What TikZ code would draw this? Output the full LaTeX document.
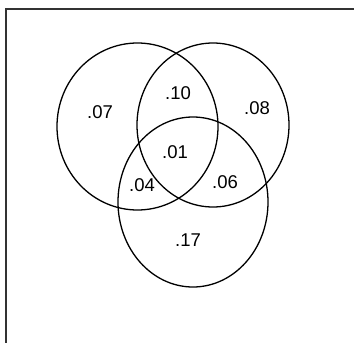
\documentclass[tikz,border=0pt]{standalone}
\usepackage{fontspec}
\setmainfont{Liberation Sans}
\begin{document}
\begin{tikzpicture}[x=1pt,y=-1pt,
  venn/.style={draw=black,line width=1.3pt},
  frameline/.style={draw=black!80,line width=1.6pt},
  lbl/.style={font=\fontsize{18.5}{22}\selectfont,inner sep=0pt}]
\useasboundingbox (0,0) rectangle (354,343);
\fill[white] (0,0) rectangle (354,343);
% frame (top and left edges)
\coordinate (ftr) at (354,9);
\coordinate (ftl) at (6,9);
\coordinate (fbl) at (6,343);
\draw[frameline] (ftr) -- (ftl) -- (fbl);
% circles
\coordinate (cA) at (137.5,126.5);
\coordinate (cB) at (213,125);
\coordinate (cC) at (193,202);
\draw[venn] (cA) ellipse [x radius=80.5, y radius=83.5];
\draw[venn] (cB) ellipse [x radius=76, y radius=82];
\draw[venn] (cC) ellipse [x radius=75, y radius=85];
% labels
\node[lbl] (l07) at (100,112) {.07};
\node[lbl] (l10) at (178,93) {.10};
\node[lbl] (l08) at (257,108) {.08};
\node[lbl] (l01) at (175,152) {.01};
\node[lbl] (l04) at (142,185) {.04};
\node[lbl] (l06) at (225,182) {.06};
\node[lbl] (l17) at (188,240) {.17};
\end{tikzpicture}
\end{document}
